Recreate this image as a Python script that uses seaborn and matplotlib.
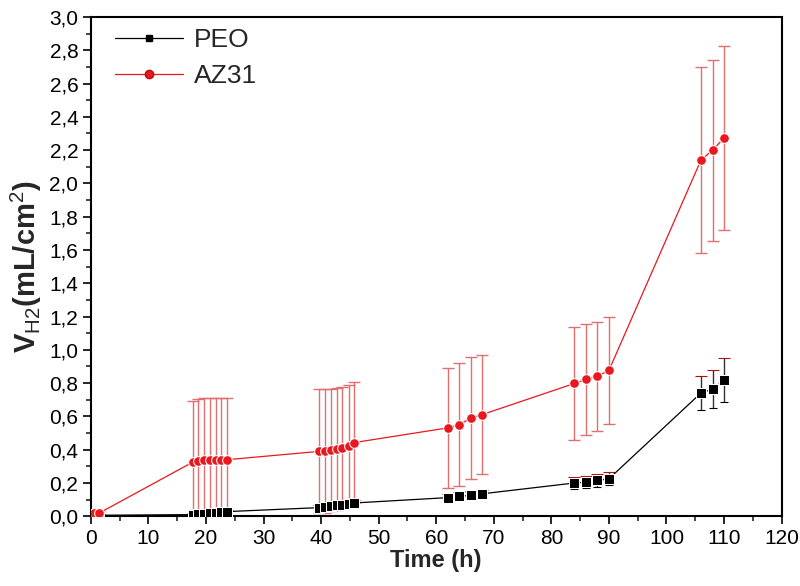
import matplotlib
matplotlib.use("Agg")
import matplotlib.pyplot as plt
import matplotlib.ticker as mticker
import pandas as pd
import seaborn as sns

# Time points (h)
time_h = [0.5, 1.5,
          17.7, 18.7, 19.7, 20.7, 21.7, 22.7, 23.7,
          39.7, 40.7, 41.7, 42.7, 43.7, 44.8, 45.8,
          62, 64, 66, 68,
          84, 86, 88, 90,
          106, 108, 110]

# Hydrogen volume (mL/cm2)
peo_vals = [0.005, 0.006,
            0.010, 0.012, 0.015, 0.018, 0.020, 0.025, 0.028,
            0.052, 0.056, 0.060, 0.066, 0.070, 0.075, 0.080,
            0.112, 0.120, 0.125, 0.135,
            0.200, 0.205, 0.215, 0.225,
            0.741, 0.764, 0.818]
peo_err = [0.005, 0.005,
           0.008, 0.008, 0.009, 0.010, 0.010, 0.011, 0.012,
           0.015, 0.016, 0.016, 0.017, 0.018, 0.018, 0.019,
           0.022, 0.023, 0.024, 0.025,
           0.035, 0.036, 0.038, 0.040,
           0.103, 0.112, 0.134]

az31_vals = [0.020, 0.020,
             0.325, 0.333, 0.336, 0.340, 0.340, 0.340, 0.340,
             0.390, 0.390, 0.398, 0.405, 0.412, 0.422, 0.443,
             0.531, 0.551, 0.589, 0.611,
             0.798, 0.822, 0.842, 0.876,
             2.141, 2.199, 2.273]
az31_err = [0.010, 0.010,
            0.368, 0.372, 0.372, 0.368, 0.368, 0.368, 0.368,
            0.372, 0.372, 0.368, 0.368, 0.366, 0.364, 0.363,
            0.361, 0.371, 0.365, 0.357,
            0.340, 0.333, 0.327, 0.324,
            0.561, 0.543, 0.555]

df = pd.concat([
    pd.DataFrame({"Time": time_h, "V": peo_vals, "err": peo_err, "Sample": "PEO"}),
    pd.DataFrame({"Time": time_h, "V": az31_vals, "err": az31_err, "Sample": "AZ31"}),
], ignore_index=True)

sns.set_theme(style="ticks")
plt.rcParams["font.family"] = ["Liberation Sans", "DejaVu Sans"]
plt.rcParams["mathtext.fontset"] = "custom"
plt.rcParams["mathtext.rm"] = "Liberation Sans"
plt.rcParams["mathtext.it"] = "Liberation Sans"
plt.rcParams["mathtext.bf"] = "Liberation Sans:bold"

colors = {"PEO": "black", "AZ31": "#e8181e"}
ecolors = {"PEO": "#333333", "AZ31": "#e07070"}
edges = {"PEO": "black", "AZ31": "#b01010"}

fig, ax = plt.subplots(figsize=(8, 5.86), dpi=100)
fig.subplots_adjust(left=0.1135, right=0.977, top=0.971, bottom=0.119)

# error bars first so markers sit on top
for name, sub in df.groupby("Sample", sort=False):
    ax.errorbar(sub["Time"], sub["V"], yerr=sub["err"], fmt="none",
                ecolor=ecolors[name], elinewidth=1.0, capsize=4.5, capthick=1.0, zorder=2)

sns.lineplot(data=df, x="Time", y="V", hue="Sample", style="Sample",
             palette=colors, markers={"PEO": "s", "AZ31": "o"}, dashes=False,
             linewidth=0.9, markersize=7, ax=ax, zorder=3, legend=False)

for line, name in zip(ax.lines, ["PEO", "AZ31"]):
    line.set_markeredgecolor(edges[name])
    line.set_markeredgewidth(0.8)
    if name == "PEO":
        line.set_markersize(5.5)
        line.set_linewidth(0.8)

# legend handles
h_peo, = ax.plot([], [], color="black", marker="s", markersize=5, lw=0.9,
                 markeredgecolor="black")
h_az, = ax.plot([], [], color="#e8181e", marker="o", markersize=6, lw=0.9,
                markeredgecolor="#b01010")
ax.legend([h_peo, h_az], ["PEO", "AZ31"], loc="upper left", frameon=False,
          fontsize=19, handlelength=2.6, handletextpad=0.4, labelspacing=0.45,
          borderaxespad=0.5, bbox_to_anchor=(0.0, 1.025))

ax.set_xlim(0, 120)
ax.set_ylim(0, 3.0)
ax.xaxis.set_major_locator(mticker.MultipleLocator(10))
ax.xaxis.set_minor_locator(mticker.MultipleLocator(5))
ax.yaxis.set_major_locator(mticker.MultipleLocator(0.2))
ax.yaxis.set_minor_locator(mticker.MultipleLocator(0.1))
ax.yaxis.set_major_formatter(mticker.FuncFormatter(lambda v, p: f"{v:.1f}".replace(".", ",")))

ax.tick_params(axis="both", which="major", direction="out", length=6, width=1.2,
               labelsize=15, colors="black", pad=3)
ax.tick_params(axis="both", which="minor", direction="out", length=3.5, width=1.2)
ax.tick_params(top=False, right=False, which="both")
for s in ax.spines.values():
    s.set_visible(True)
    s.set_linewidth(1.5)
    s.set_color("black")

ax.set_xlabel("Time (h)", fontsize=17, fontweight="bold", labelpad=1)
ax.set_ylabel(r"V$_{\rm H2}$(mL/cm$^{\rm 2}$)", fontsize=21, fontweight="bold", labelpad=4)

fig.savefig("out.png", dpi=100)
